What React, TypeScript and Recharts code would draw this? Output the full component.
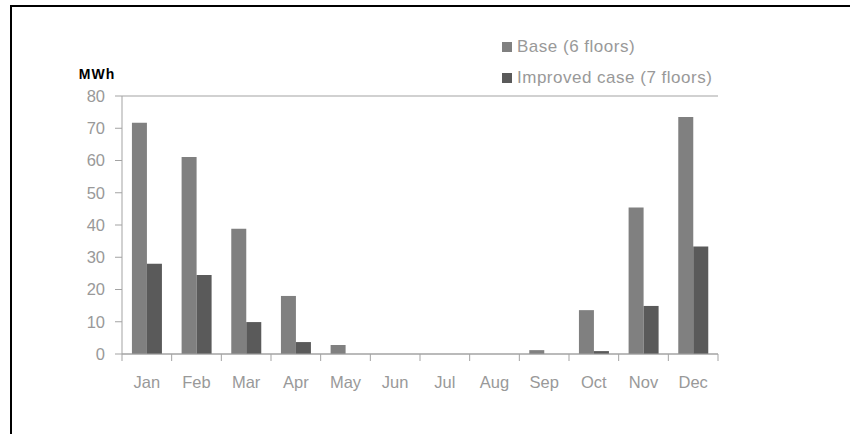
import { Bar, BarChart, CartesianGrid, XAxis, YAxis } from "recharts";

const months = ["Jan", "Feb", "Mar", "Apr", "May", "Jun", "Jul", "Aug", "Sep", "Oct", "Nov", "Dec"];
const baseCase = [71.7, 61.1, 38.8, 18, 2.8, 0, 0, 0, 1.2, 13.6, 45.4, 73.5];
const improvedCase = [28, 24.5, 9.9, 3.7, 0, 0, 0, 0, 0, 0.9, 14.9, 33.3];
const yTicks = [0, 10, 20, 30, 40, 50, 60, 70, 80];

const data = months.map((month, i) => ({
  month,
  base: baseCase[i],
  improved: improvedCase[i],
}));

const FONT = "'Liberation Sans', Arial, sans-serif";
const GRID = "#a3a3a3";
const TEXT = "#999999";

const CHART_W = 850;
const CHART_H = 434;
const X_AXIS_H = 30;
const Y_AXIS_W = 50;
const MARGIN = { top: 96, right: 132, bottom: 50, left: 72 };
const BAND = (CHART_W - MARGIN.left - Y_AXIS_W - MARGIN.right) / months.length;
const AXIS_Y = CHART_H - MARGIN.bottom - X_AXIS_H;

function MonthTick(props: any) {
  const { x, payload, index } = props;
  const left = x - BAND / 2;
  return (
    <g>
      <line x1={left} x2={left} y1={AXIS_Y} y2={AXIS_Y + 7} stroke={GRID} />
      {index === months.length - 1 && (
        <line x1={left + BAND} x2={left + BAND} y1={AXIS_Y} y2={AXIS_Y + 7} stroke={GRID} />
      )}
      <text x={x} y={AXIS_Y + 34} textAnchor="middle" fill={TEXT} fontSize={16.5} fontFamily={FONT}>
        {payload.value}
      </text>
    </g>
  );
}

const legendItems = [
  { label: "Base (6 floors)", color: "#808080" },
  { label: "Improved case (7 floors)", color: "#5a5a5a" },
];

function ChartLegend() {
  return (
    <div
      style={{
        position: "absolute",
        left: 502,
        top: 31,
        fontFamily: FONT,
        fontSize: 17,
        letterSpacing: 0.5,
        color: TEXT,
        lineHeight: "20px",
      }}
    >
      {legendItems.map((item) => (
        <div key={item.label} style={{ display: "flex", alignItems: "center", height: 31 }}>
          <span
            style={{
              display: "inline-block",
              width: 10,
              height: 10,
              background: item.color,
              marginRight: 5,
            }}
          />
          {item.label}
        </div>
      ))}
    </div>
  );
}

export default function App() {
  return (
    <div style={{ position: "fixed", left: 0, top: 0, width: CHART_W, height: CHART_H, background: "#fff" }}>
      <div
        style={{
          position: "absolute",
          left: 10,
          top: 5,
          width: CHART_W - 10,
          height: CHART_H - 5,
          borderTop: "2px solid #000",
          borderLeft: "2px solid #000",
        }}
      />
      <BarChart
        width={CHART_W}
        height={CHART_H}
        data={data}
        margin={MARGIN}
        barCategoryGap="20%"
        barGap={0}
      >
        <CartesianGrid stroke={GRID} vertical={false} />
        <XAxis
          dataKey="month"
          height={X_AXIS_H}
          axisLine={{ stroke: GRID }}
          tickLine={false}
          interval={0}
          tick={<MonthTick />}
        />
        <YAxis
          yAxisId="left"
          domain={[0, 80]}
          ticks={yTicks}
          width={Y_AXIS_W}
          axisLine={{ stroke: GRID }}
          tickLine={{ stroke: GRID }}
          tickSize={7}
          tickMargin={10}
          tick={{ fill: TEXT, fontSize: 16.5, fontFamily: FONT }}
          label={{
            value: "MWh",
            position: "top",
            offset: 17,
            fill: "#000",
            fontSize: 14,
            fontWeight: "bold",
            letterSpacing: 1,
            fontFamily: FONT,
          }}
        />
        <YAxis
          yAxisId="right"
          orientation="right"
          domain={[0, 80]}
          width={0}
          tick={false}
          tickLine={false}
          axisLine={{ stroke: GRID }}
        />
        <Bar yAxisId="left" dataKey="base" name="Base (6 floors)" fill="#808080" isAnimationActive={false} />
        <Bar
          yAxisId="left"
          dataKey="improved"
          name="Improved case (7 floors)"
          fill="#5a5a5a"
          isAnimationActive={false}
        />
      </BarChart>
      <ChartLegend />
    </div>
  );
}
